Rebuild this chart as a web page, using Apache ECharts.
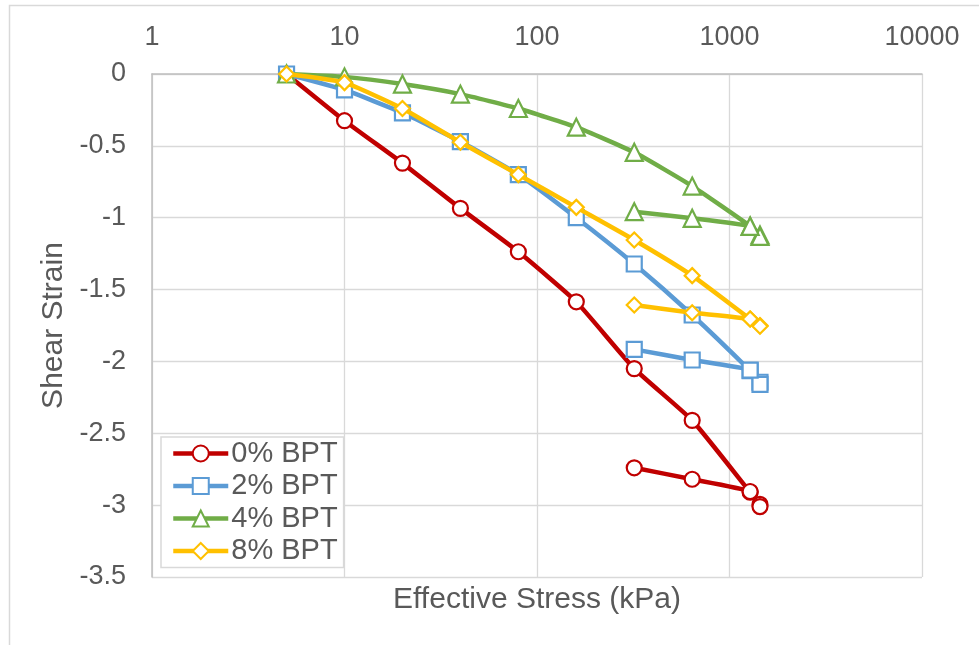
<!DOCTYPE html>
<html>
<head>
<meta charset="utf-8">
<script src="https://cdn.jsdelivr.net/npm/echarts@6/dist/echarts.min.js"></script>
<style>
  html, body { margin: 0; padding: 0; background: #ffffff; }
  #chart { width: 979px; height: 645px; }
</style>
</head>
<body>
<div id="chart"></div>
<script>
// Effective stress steps (kPa): loading path, then unloading back down
const stress = [5, 10, 20, 40, 80, 160, 320, 640, 1280, 1440, 1440, 1280, 640, 320];

// Shear strain recorded at each stress step
const strain0 = [0, -0.325, -0.62, -0.935, -1.237, -1.585, -2.05, -2.41, -2.91, -2.995, -3.01, -2.905, -2.82, -2.74];
const strain2 = [0, -0.111, -0.27, -0.47, -0.70, -1.0, -1.322, -1.677, -2.065, -2.145, -2.16, -2.06, -1.99, -1.916];
const strain4 = [0, -0.02, -0.07, -0.14, -0.24, -0.37, -0.545, -0.78, -1.058, -1.12, -1.13, -1.06, -1.004, -0.958];
const strain8 = [0, -0.06, -0.24, -0.475, -0.70, -0.928, -1.155, -1.403, -1.705, -1.75, -1.755, -1.705, -1.661, -1.607];

const seriesNames = ['0% BPT', '2% BPT', '4% BPT', '8% BPT'];
const seriesColors = ['#C00000', '#5B9BD5', '#70AD47', '#FFC000'];
const seriesSymbols = ['circle', 'rect', 'triangle', 'diamond'];
const symbolSizes = [15, 15, 17, 15];
const strainSets = [strain0, strain2, strain4, strain8];

const FONT = '"Liberation Sans", Arial, sans-serif';
const TEXT = '#595959';

const chart = echarts.init(document.getElementById('chart'), null, { renderer: 'canvas' });

const series = strainSets.map((vals, i) => ({
  name: seriesNames[i],
  type: 'line',
  xAxisIndex: 0,
  data: stress.map((s, k) => [s, vals[k]]),
  symbol: seriesSymbols[i],
  symbolSize: symbolSizes[i],
  showAllSymbol: true,
  smooth: 0.15,
  lineStyle: { color: seriesColors[i], width: 4.5 },
  itemStyle: { color: '#ffffff', borderColor: seriesColors[i], borderWidth: 2.2 },
  emphasis: { disabled: true },
  z: 2 + i
}));

chart.setOption({
  animation: false,
  backgroundColor: '#ffffff',
  textStyle: { fontFamily: FONT },
  grid: { left: 152, right: 57, top: 74, bottom: 68, containLabel: false },
  xAxis: [
    {
      type: 'log',
      logBase: 10,
      min: 1,
      max: 10000,
      position: 'top',
      axisLine: { show: true, lineStyle: { color: '#BFBFBF', width: 1.5 } },
      axisTick: { show: false },
      axisLabel: {
        color: TEXT, fontSize: 27, fontFamily: FONT, margin: 23,
        formatter: v => String(Math.round(v))
      },
      splitLine: { show: true, lineStyle: { color: '#D9D9D9', width: 1.3 } }
    },
    {
      type: 'log',
      logBase: 10,
      min: 1,
      max: 10000,
      position: 'bottom',
      name: 'Effective Stress (kPa)',
      nameLocation: 'middle',
      nameGap: 8,
      nameTextStyle: { color: TEXT, fontSize: 30, fontFamily: FONT, verticalAlign: 'top' },
      axisLine: { show: false },
      axisTick: { show: false },
      axisLabel: { show: false },
      splitLine: { show: false }
    }
  ],
  yAxis: {
    type: 'value',
    min: -3.5,
    max: 0,
    interval: 0.5,
    name: 'Shear Strain',
    nameLocation: 'middle',
    nameRotate: 90,
    nameGap: 83,
    nameTextStyle: { color: TEXT, fontSize: 30, fontFamily: FONT },
    axisLine: { show: true, lineStyle: { color: '#BFBFBF', width: 1.5 } },
    axisTick: { show: false },
    axisLabel: { color: TEXT, fontSize: 27, fontFamily: FONT, margin: 26 },
    splitLine: { show: true, lineStyle: { color: '#D9D9D9', width: 1.3 } }
  },
  legend: {
    data: seriesNames,
    orient: 'vertical',
    left: 161,
    top: 437,
    width: 180,
    padding: [2, 6, 2, 10],
    itemGap: 3.5,
    itemWidth: 55,
    itemHeight: 20,
    backgroundColor: '#ffffff',
    borderColor: '#D9D9D9',
    borderWidth: 1.5,
    lineStyle: { width: 4.5 },
    textStyle: { color: TEXT, fontSize: 29, fontFamily: FONT, padding: [0, 0, 0, -2] },
    selectedMode: false
  },
  graphic: [
    {
      type: 'polyline',
      silent: true,
      shape: { points: [[9.5, 645], [9.5, 5.5], [979, 5.5]] },
      style: { stroke: '#D9D9D9', lineWidth: 1.5, fill: null }
    }
  ],
  series: series
});
</script>
</body>
</html>
